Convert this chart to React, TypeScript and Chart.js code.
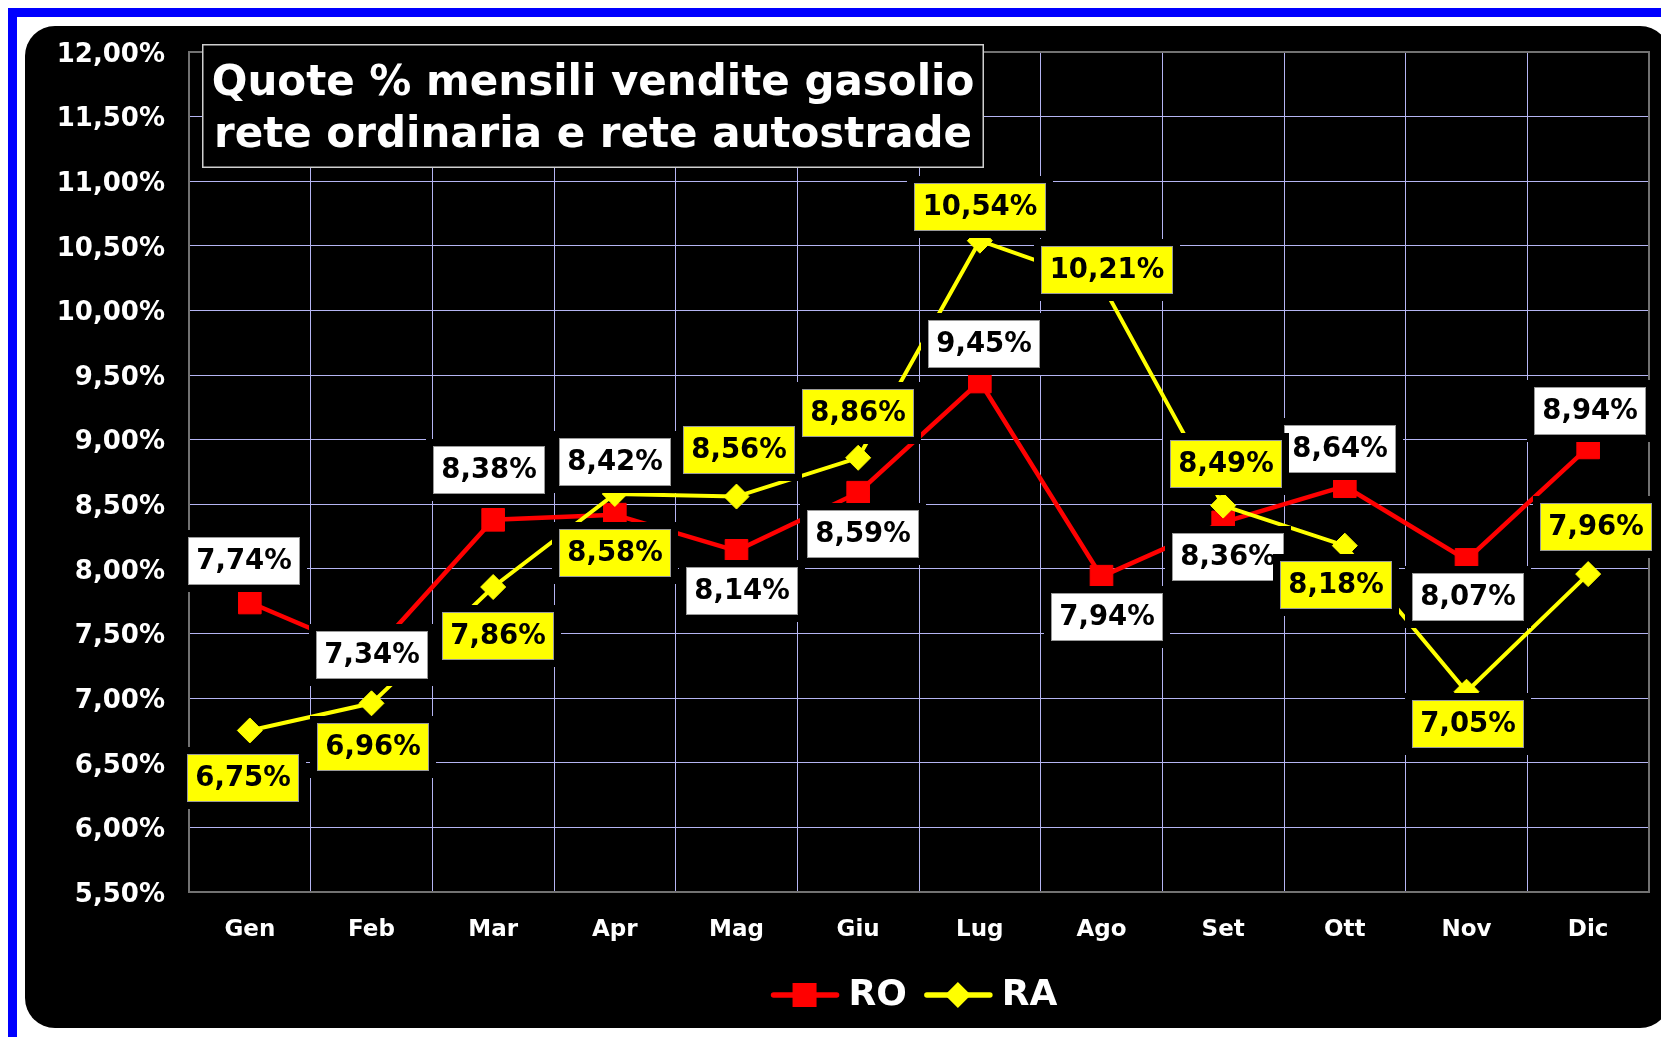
import React, { useEffect, useRef } from 'react';
import { Chart, registerables } from 'chart.js';

Chart.register(...registerables);

// ---------- data ----------
const months = ['Gen', 'Feb', 'Mar', 'Apr', 'Mag', 'Giu', 'Lug', 'Ago', 'Set', 'Ott', 'Nov', 'Dic'];
const roValues = [7.74, 7.34, 8.38, 8.42, 8.14, 8.59, 9.45, 7.94, 8.36, 8.64, 8.07, 8.94];
const raValues = [6.75, 6.96, 7.86, 8.58, 8.56, 8.86, 10.54, 10.21, 8.49, 8.18, 7.05, 7.96];
const seriesNames = ['RO', 'RA'];
const titleLines = ['Quote % mensili vendite gasolio', 'rete ordinaria e rete autostrade'];
const yMin = 5.5;
const yMax = 12;
const yStep = 0.5;

// ---------- label placement (pixel offsets relative to each point) ----------
const roLabelOffsets: [number, number][] = [
  [-6, -42], [0, 1], [-4, -50], [0, -53], [5, 40], [5, 41],
  [4, -38], [5, 40], [5, 35], [-5, -37], [1, 37], [2, -36],
];
const raLabelOffsets: [number, number][] = [
  [-7, 48], [1, 44], [5, 49], [0, 59], [2, -47], [0, -45],
  [0, -34], [5, -13], [3, -42], [-9, 39], [1, 32], [8, -47],
];

// ---------- styles ----------
const FONT = "'DejaVu Sans', Verdana, sans-serif";
const RED = '#ff0000';
const YELLOW = '#ffff00';
const GRID = '#b4b4f2';
const FRAME = '#727272';

const fmt = (v: number) => v.toFixed(2).replace('.', ',') + '%';

const labelFills = ['#ffffff', YELLOW];
const labelOffsets = [roLabelOffsets, raLabelOffsets];

const decorPlugin = {
  id: 'decor',
  beforeDatasetsDraw(chart: any) {
    const { ctx, chartArea: a } = chart;
    ctx.save();
    ctx.strokeStyle = FRAME;
    ctx.lineWidth = 2;
    ctx.strokeRect(a.left, a.top, a.right - a.left, a.bottom - a.top);
    ctx.restore();
  },
  afterDatasetsDraw(chart: any) {
    const ctx = chart.ctx;
    ctx.save();
    ctx.font = `bold 27.5px ${FONT}`;
    ctx.textAlign = 'center';
    ctx.textBaseline = 'middle';
    chart.data.datasets.forEach((ds: any, di: number) => {
      const meta = chart.getDatasetMeta(di);
      const offs = labelOffsets[di];
      meta.data.forEach((pt: any, i: number) => {
        const txt = fmt(ds.data[i]);
        const w = Math.round(ctx.measureText(txt).width + 17);
        const h = 48;
        const cx = pt.x + offs[i][0];
        const cy = pt.y + offs[i][1];
        const x0 = Math.round(cx - w / 2);
        const y0 = Math.round(cy - h / 2);
        ctx.fillStyle = '#000000';
        ctx.fillRect(x0 - 7, y0 - 7, w + 14, h + 14);
        ctx.fillStyle = labelFills[di];
        ctx.fillRect(x0, y0, w, h);
        ctx.strokeStyle = '#9a9a9a';
        ctx.lineWidth = 1;
        ctx.strokeRect(x0 + 0.5, y0 + 0.5, w - 1, h - 1);
        ctx.fillStyle = '#000000';
        ctx.fillText(txt, x0 + w / 2, y0 + h / 2 + 1);
      });
    });
    ctx.restore();
  },
  afterDraw(chart: any) {
    const { ctx, chartArea: a } = chart;
    ctx.save();
    // title box
    const bx = a.left + 13;
    const by = a.top - 8;
    const bw = 782;
    const bh = 124;
    ctx.fillStyle = '#000000';
    ctx.fillRect(bx, by, bw, bh);
    ctx.strokeStyle = '#cfcfcf';
    ctx.lineWidth = 1.5;
    ctx.strokeRect(bx + 0.75, by + 0.75, bw - 1.5, bh - 1.5);
    ctx.fillStyle = '#ffffff';
    ctx.font = `bold 42px ${FONT}`;
    ctx.textAlign = 'center';
    ctx.textBaseline = 'alphabetic';
    ctx.fillText(titleLines[0], bx + bw / 2, by + 51);
    ctx.fillText(titleLines[1], bx + bw / 2, by + 103);

    // legend
    const ly = a.bottom + 103;
    ctx.font = `bold 36px ${FONT}`;
    const items = chart.data.datasets.map((ds: any) => ({
      name: ds.label,
      color: ds.borderColor,
      style: ds.pointStyle,
    }));
    const widths = items.map((it: any) => 78 + ctx.measureText(it.name).width);
    const gap = 17;
    const total = widths.reduce((s: number, v: number) => s + v, 0) + gap * (items.length - 1);
    let x = (a.left + a.right) / 2 - 5 - total / 2;
    items.forEach((it: any, i: number) => {
      ctx.strokeStyle = it.color;
      ctx.lineWidth = 5.5;
      ctx.lineCap = 'round';
      ctx.beginPath();
      ctx.moveTo(x + 3, ly);
      ctx.lineTo(x + 66, ly);
      ctx.stroke();
      ctx.fillStyle = it.color;
      const mx = x + 34;
      if (it.style === 'rect') {
        ctx.fillRect(mx - 12, ly - 12, 24, 24);
      } else {
        ctx.beginPath();
        ctx.moveTo(mx, ly - 13);
        ctx.lineTo(mx + 13, ly);
        ctx.lineTo(mx, ly + 13);
        ctx.lineTo(mx - 13, ly);
        ctx.closePath();
        ctx.fill();
      }
      ctx.fillStyle = '#ffffff';
      ctx.textAlign = 'left';
      ctx.textBaseline = 'middle';
      ctx.fillText(it.name, x + 78, ly + 1);
      x += widths[i] + gap;
    });
    ctx.restore();
  },
};

export default function App() {
  const ref = useRef<HTMLCanvasElement>(null);

  useEffect(() => {
    if (!ref.current) return;
    Chart.defaults.font.family = FONT;
    const chart = new Chart(ref.current, {
      type: 'line',
      data: {
        labels: months,
        datasets: [
          {
            label: seriesNames[0],
            data: roValues,
            borderColor: RED,
            backgroundColor: RED,
            borderWidth: 4.5,
            pointStyle: 'rect',
            pointRadius: 16,
            pointBorderWidth: 1,
            pointBorderColor: RED,
            pointBackgroundColor: RED,
            tension: 0,
            order: 1,
          },
          {
            label: seriesNames[1],
            data: raValues,
            borderColor: YELLOW,
            backgroundColor: YELLOW,
            borderWidth: 4,
            pointStyle: 'rectRot',
            pointRadius: 12.5,
            pointBorderWidth: 1,
            pointBorderColor: YELLOW,
            pointBackgroundColor: YELLOW,
            tension: 0,
            order: 0,
          },
        ],
      },
      options: {
        animation: false,
        responsive: false,
        devicePixelRatio: 1,
        layout: { autoPadding: false, padding: { left: 0, right: 12, top: 26, bottom: 0 } },
        plugins: {
          legend: { display: false },
          title: { display: false },
          tooltip: { enabled: false },
        },
        scales: {
          x: {
            type: 'category',
            offset: true,
            grid: { color: GRID, lineWidth: 1, offset: true, drawTicks: false },
            border: { display: false },
            ticks: {
              color: '#ffffff',
              font: { family: FONT, size: 23, weight: 'bold' },
              padding: 24,
              maxRotation: 0,
              autoSkip: false,
            },
            afterFit: (scale: any) => {
              scale.height = 136;
              scale.paddingLeft = 0;
              scale.paddingRight = 0;
            },
          },
          y: {
            min: yMin,
            max: yMax,
            grid: { color: GRID, lineWidth: 1, drawTicks: false },
            border: { display: false },
            ticks: {
              stepSize: yStep,
              color: '#ffffff',
              font: { family: FONT, size: 26, weight: 'bold' },
              padding: 24,
              labelOffset: 3,
              callback: (v: any) => fmt(Number(v)),
            },
            afterFit: (scale: any) => {
              scale.width = 164;
              scale.paddingTop = 0;
              scale.paddingBottom = 0;
            },
          },
        },
      },
      plugins: [decorPlugin],
    } as any);
    return () => chart.destroy();
  }, []);

  return (
    <div
      style={{
        position: 'fixed',
        left: 0,
        top: 0,
        width: 1661,
        height: 1037,
        overflow: 'hidden',
        background: '#ffffff',
      }}
    >
      <div
        style={{
          position: 'absolute',
          left: 8,
          top: 8,
          width: 1800,
          height: 1200,
          borderTop: '9px solid #0000ff',
          borderLeft: '9px solid #0000ff',
        }}
      />
      <div
        style={{
          position: 'absolute',
          left: 25,
          top: 26,
          width: 1645,
          height: 1002,
          background: '#000000',
          borderRadius: 30,
        }}
      />
      <canvas
        ref={ref}
        width={1636}
        height={1002}
        style={{ position: 'absolute', left: 25, top: 26, width: 1636, height: 1002 }}
      />
    </div>
  );
}
